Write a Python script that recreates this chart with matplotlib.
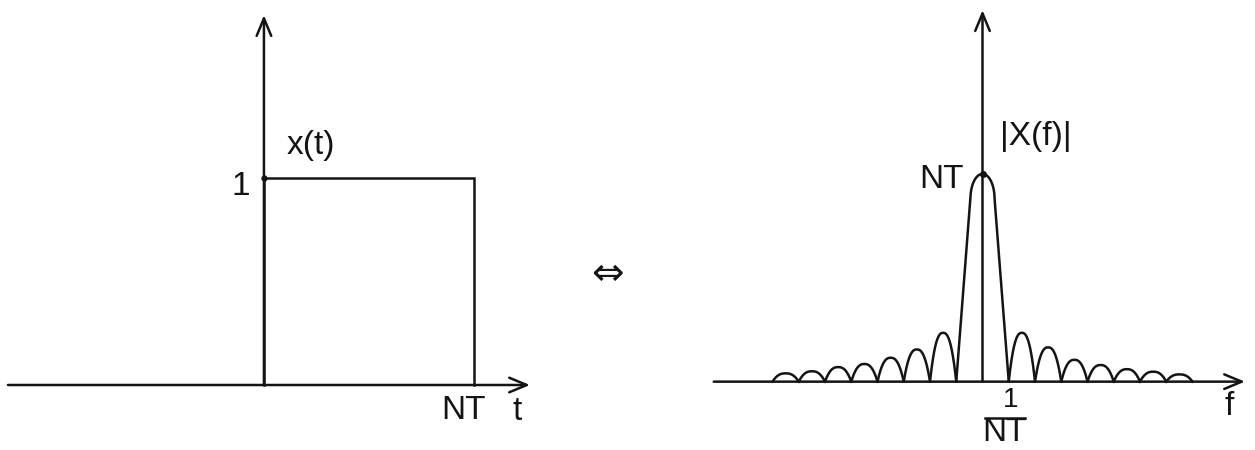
import matplotlib.pyplot as plt
import numpy as np

# rectangular pulse x(t): 1 on [0, NT], in units of NT
pulse_t = [0, 0, 1, 1]
pulse_x = [0, 1, 1, 0]

# |X(f)|: main lobe height NT (=1), side lobes between multiples of 1/NT
main_lobe = (-1, 1)
main_height = 1.0
left_lobe_start = [-8, -7, -6, -5, -4, -3, -2]
left_lobe_height = [0.04, 0.05, 0.07, 0.085, 0.115, 0.155, 0.235]
right_lobe_start = [1, 2, 3, 4, 5, 6, 7]
right_lobe_height = [0.235, 0.165, 0.105, 0.08, 0.06, 0.048, 0.035]

LW = 1.8
INK = '#141414'
FONT = ['Liberation Sans', 'DejaVu Sans']
FS = 24

fig = plt.figure(figsize=(12.55, 4.5), dpi=100)
fig.patch.set_facecolor('white')


def arrow(ax, start, tip):
    ax.annotate('', xy=tip, xytext=start,
                arrowprops=dict(arrowstyle='->,head_length=0.6,head_width=0.25',
                                lw=LW, color=INK, mutation_scale=21,
                                shrinkA=0, shrinkB=0))


def label(ax, x, y, s, size=FS):
    ax.text(x, y, s, family=FONT, fontsize=size, ha='center', va='center', color=INK)


def arch(u, p):
    # rounded lobe profile on u in [-1, 1]
    return 1 - np.abs(u) ** p


def main_outline(top_w=0.46, cap=0.12, n=150):
    # straight flanks closed by an elliptical cap; returns (u, y) for the full lobe
    y_line = np.linspace(0, 1 - cap, n)
    w_line = 1 - (1 - top_w) * y_line / (1 - cap)
    th = np.linspace(0, np.pi / 2, n)
    y_cap = 1 - cap + cap * np.sin(th)
    w_cap = top_w * np.cos(th)
    w = np.concatenate([w_line, w_cap[1:]])
    y = np.concatenate([y_line, y_cap[1:]])
    return np.concatenate([-w, w[::-1]]), np.concatenate([y, y[::-1]])


# left panel: time domain
ax1 = fig.add_axes([0, 0, 560 / 1255, 1])
ax1.set_xlim(-1.257, 1.41)
ax1.set_ylim(-0.314, 1.860)
ax1.axis('off')
arrow(ax1, (-1.219, 0), (1.267, 0))
arrow(ax1, (0, 0), (0, 1.787))
ax1.plot(pulse_t, pulse_x, color=INK, lw=LW, solid_joinstyle='miter')
ax1.plot([0], [1], 'o', color=INK, ms=3.5)
label(ax1, 0.224, 1.159, 'x(t)')
label(ax1, -0.11, 0.961, '1')
label(ax1, 0.95, -0.121, 'NT')
label(ax1, 1.204, -0.126, 't')

# Fourier pair sign
fig.text(607 / 1255, 1 - 274 / 450, '\u21d4', family='DejaVu Sans', fontsize=28,
         ha='center', va='center', color=INK)

# right panel: magnitude spectrum
ax2 = fig.add_axes([690 / 1255, 0, 565 / 1255, 1])
ax2.set_xlim(-11.143, 10.381)
ax2.set_ylim(-0.329, 1.837)
ax2.axis('off')
arrow(ax2, (-10.24, 0), (10.0, 0))

mid = (main_lobe[0] + main_lobe[1]) / 2
half = (main_lobe[1] - main_lobe[0]) / 2
mu, my = main_outline()
ax2.plot(mid + mu * half, main_height * my, color=INK, lw=LW)
ax2.plot([mid], [main_height], 'o', color=INK, ms=4)

u = np.linspace(-1, 1, 200)
for start, h in zip(left_lobe_start + right_lobe_start,
                    left_lobe_height + right_lobe_height):
    ax2.plot(start + 0.5 + 0.5 * u, h * arch(u, 2.5), color=INK, lw=LW)

arrow(ax2, (0, 0), (0, 1.788))
label(ax2, 2.04, 1.178, '|X(f)|')
label(ax2, -1.543, 0.974, 'NT')
label(ax2, 1.09, -0.087, '1', size=20)
ax2.plot([0.095, 1.619], [-0.173, -0.173], color=INK, lw=LW)
label(ax2, 0.857, -0.245, 'NT')
label(ax2, 9.39, -0.12, 'f')

fig.savefig('out.png', dpi=100, facecolor='white')
